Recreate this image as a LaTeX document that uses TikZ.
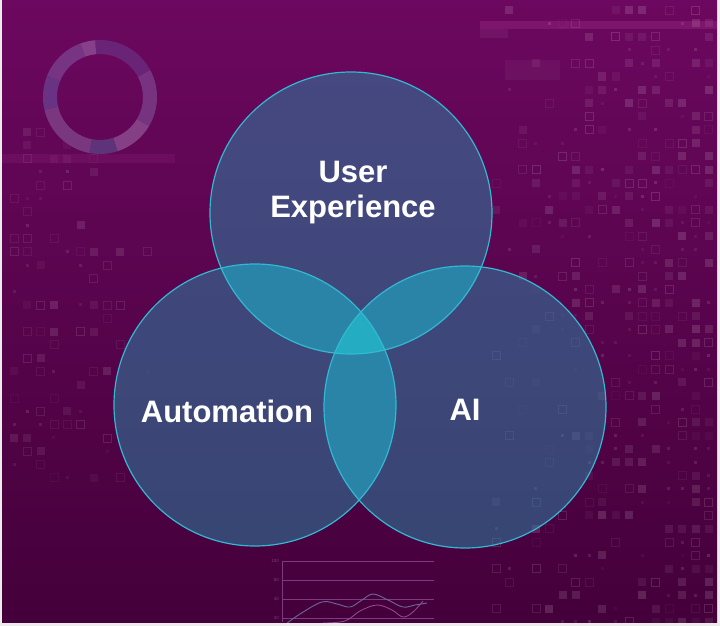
\documentclass[tikz,border=0pt]{standalone}
\usepackage{fontspec}
\setmainfont{Liberation Sans}
\definecolor{bgtop}{HTML}{6C085F}
\definecolor{bgbot}{HTML}{44003A}
\definecolor{edgec}{HTML}{ECECEC}
\definecolor{single}{HTML}{2B7FA0}
\definecolor{pairc}{HTML}{2A84A8}
\definecolor{triple}{HTML}{24ADC2}
\definecolor{ringc}{HTML}{33B8D2}
\definecolor{chartc}{HTML}{7E3A7E}
\definecolor{curveA}{HTML}{6A6A9A}
\definecolor{curveB}{HTML}{9A4A9A}
\definecolor{rgA}{HTML}{6A2A7E}
\definecolor{rgB}{HTML}{7A3B86}
\definecolor{rgC}{HTML}{8A4A8E}
\definecolor{rgD}{HTML}{5F3C80}
\definecolor{rgE}{HTML}{7E4088}
\definecolor{rgF}{HTML}{6A3A8A}
\definecolor{rgG}{HTML}{7A3C8A}
\definecolor{rgH}{HTML}{8A4A92}
\begin{document}
\begin{tikzpicture}[x=1pt,y=-1pt,
  vcirc/.style={circle,minimum size=282pt,inner sep=0pt,draw=ringc,line width=1.2pt},
  lbl/.style={text=white,font=\bfseries\fontsize{31}{35}\selectfont,align=center},
  axlbl/.style={text=chartc,font=\fontsize{4.5}{5}\selectfont,anchor=east,inner sep=1pt},
  grid/.style={draw=chartc,line width=0.7pt},
]
\useasboundingbox (0,0) rectangle (720,626);
\fill[edgec] (0,0) rectangle (720,626);
\begin{scope}[y=1pt]
  \shade[top color=bgtop,bottom color=bgbot] (2,-622) rectangle (717,0);
\end{scope}
\begin{scope}
\clip (2,0) rectangle (717,622);
% light strips
\fill[pink!60!magenta,opacity=0.13] (480,21) rectangle (717,29);
\fill[white,opacity=0.05] (480,29) rectangle (508,38);
\fill[white,opacity=0.04] (505,60) rectangle (560,80);
\fill[pink!60!magenta,opacity=0.07] (2,154) rectangle (175,163);
% pixel squares, right
\pgfmathsetseed{11}
\foreach \i in {0,...,16}{
  \foreach \j in {0,...,46}{
    \pgfmathsetmacro{\rr}{rnd}
    \pgfmathsetmacro{\thr}{0.12+0.65*\i/16}
    \pgfmathsetmacro{\op}{0.03+0.11*rnd}
    \pgfmathsetmacro{\ss}{rnd}
    \ifdim\rr pt<\thr pt
      \ifdim\ss pt<0.35pt
        \draw[white,opacity=\op,line width=0.7pt] ({496+13.3*\i-4},{10+13.3*\j-4}) rectangle ++(8,8);
      \else\ifdim\ss pt<0.75pt
        \fill[white,opacity=\op] ({496+13.3*\i-4},{10+13.3*\j-4}) rectangle ++(8,8);
      \else
        \fill[white,opacity=\op] ({496+13.3*\i-1.5},{10+13.3*\j-1.5}) rectangle ++(3,3);
      \fi\fi
    \fi
  }
}
% pixel squares, left
\foreach \i in {0,...,10}{
  \foreach \j in {0,...,26}{
    \pgfmathsetmacro{\rr}{rnd}
    \pgfmathsetmacro{\thr}{0.05+0.45*(1-\i/10)}
    \pgfmathsetmacro{\op}{0.03+0.09*rnd}
    \pgfmathsetmacro{\ss}{rnd}
    \ifdim\rr pt<\thr pt
      \ifdim\ss pt<0.35pt
        \draw[white,opacity=\op,line width=0.7pt] ({14+13.3*\i-4},{132+13.3*\j-4}) rectangle ++(8,8);
      \else\ifdim\ss pt<0.7pt
        \fill[white,opacity=\op] ({14+13.3*\i-4},{132+13.3*\j-4}) rectangle ++(8,8);
      \else
        \fill[white,opacity=\op] ({14+13.3*\i-1.5},{132+13.3*\j-1.5}) rectangle ++(3,3);
      \fi\fi
    \fi
  }
}
% ring
\begin{scope}[shift={(100,97)},yscale=-1,opacity=0.85]
  \foreach \a/\b/\c in {28/95/rgA,-31/28/rgB,-72/-31/rgC,-101/-72/rgD,-167/-101/rgE,158/193/rgF,110/158/rgG,95/110/rgH}{
    \fill[\c] (\a:57) arc[start angle=\a,end angle=\b,radius=57] -- (\b:43) arc[start angle=\b,end angle=\a,radius=43] -- cycle;
  }
\end{scope}
% chart
\draw[grid] (282,561) -- (282,622);
\draw[grid] (282,561) -- (434,561);
\draw[grid] (282,580) -- (434,580);
\draw[grid] (282,599) -- (434,599);
\draw[grid] (282,618) -- (434,618);
\node[axlbl] (l100) at (280,561) {100};
\node[axlbl] (l60) at (280,580) {60};
\node[axlbl] (l40) at (280,599) {40};
\node[axlbl] (l20) at (280,618) {20};
\draw[curveA,line width=0.9pt] plot[smooth,tension=0.6] coordinates {(286,624) (300,614) (322,602) (337,604) (350,607) (362,600) (373,594) (388,600) (403,607) (415,605) (427,603)};
\draw[curveB,line width=0.8pt] plot[smooth,tension=0.6] coordinates {(323,623) (345,621) (360,611) (377,605) (392,610) (403,617) (413,612) (423,601)};
\end{scope}
% circles
\coordinate (cU) at (351,213);
\coordinate (cL) at (255,405);
\coordinate (cR) at (465,407);
\fill[single,opacity=0.55] (cU) circle[radius=141];
\fill[single,opacity=0.55] (cL) circle[radius=141];
\fill[single,opacity=0.55] (cR) circle[radius=141];
\begin{scope}
  \clip (cU) circle[radius=141];
  \fill[pairc] (cL) circle[radius=141];
  \fill[pairc] (cR) circle[radius=141];
\end{scope}
\begin{scope}
  \clip (cL) circle[radius=141];
  \fill[pairc] (cR) circle[radius=141];
  \clip (cU) circle[radius=141];
  \fill[triple] (cR) circle[radius=141];
\end{scope}
\node[vcirc] (U) at (cU) {};
\node[vcirc] (L) at (cL) {};
\node[vcirc] (R) at (cR) {};
\node[lbl] (tU) at (353,193) {User\\Experience};
\node[lbl] (tL) at (227,411) {Automation};
\node[lbl] (tR) at (465,410) {AI};
\end{tikzpicture}
\end{document}
